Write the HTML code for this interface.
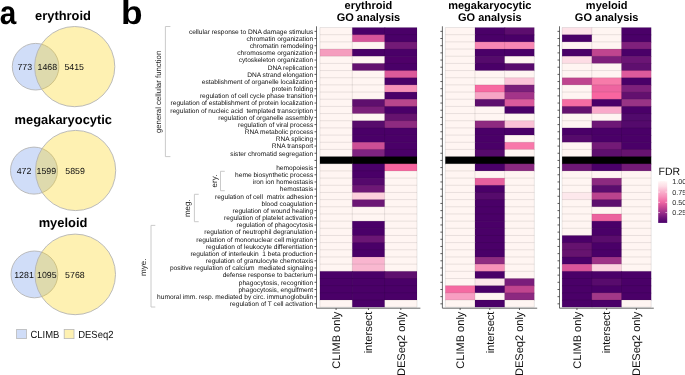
<!DOCTYPE html><html><head><meta charset="utf-8"><style>html,body{margin:0;padding:0;background:#fff;}svg{display:block;will-change:transform;}text{font-family:"Liberation Sans",sans-serif;white-space:pre;text-rendering:geometricPrecision;}</style></head><body>
<svg width="685" height="375" viewBox="0 0 685 375">
<rect width="685" height="375" fill="#fff"/>
<text transform="translate(-0.2,24) scale(0.9,1)" font-size="33" font-weight="bold" fill="#000">a</text>
<text transform="translate(120.9,24) scale(1.07,1)" font-size="33" font-weight="bold" fill="#000">b</text>
<text x="63" y="19.8" font-size="12.9" font-weight="bold" text-anchor="middle" fill="#000">erythroid</text>
<circle cx="35.6" cy="66.7" r="23.3" fill="#D0DDF8" stroke="#B4B4B4" stroke-width="0.9"/>
<circle cx="74.7" cy="66.6" r="40.1" fill="#FCD310" fill-opacity="0.32"/>
<circle cx="74.7" cy="66.6" r="40.1" fill="none" stroke="#B4B4B4" stroke-width="0.9"/>
<text x="24.8" y="70.0" font-size="8.8" text-anchor="middle" fill="#111">773</text>
<text x="47.3" y="70.0" font-size="8.8" text-anchor="middle" fill="#111">1468</text>
<text x="74.2" y="70.0" font-size="8.8" text-anchor="middle" fill="#111">5415</text>
<text x="63.3" y="123.7" font-size="12.9" font-weight="bold" text-anchor="middle" fill="#000">megakaryocytic</text>
<circle cx="34.0" cy="170.6" r="23.5" fill="#D0DDF8" stroke="#B4B4B4" stroke-width="0.9"/>
<circle cx="75.6" cy="170.5" r="40.1" fill="#FCD310" fill-opacity="0.32"/>
<circle cx="75.6" cy="170.5" r="40.1" fill="none" stroke="#B4B4B4" stroke-width="0.9"/>
<text x="24.0" y="173.7" font-size="8.8" text-anchor="middle" fill="#111">472</text>
<text x="46.3" y="173.7" font-size="8.8" text-anchor="middle" fill="#111">1599</text>
<text x="75.1" y="173.7" font-size="8.8" text-anchor="middle" fill="#111">5859</text>
<text x="63" y="227.0" font-size="12.9" font-weight="bold" text-anchor="middle" fill="#000">myeloid</text>
<circle cx="34.4" cy="274.4" r="23.4" fill="#D0DDF8" stroke="#B4B4B4" stroke-width="0.9"/>
<circle cx="75.2" cy="274.4" r="40.3" fill="#FCD310" fill-opacity="0.32"/>
<circle cx="75.2" cy="274.4" r="40.3" fill="none" stroke="#B4B4B4" stroke-width="0.9"/>
<text x="24.0" y="277.9" font-size="8.8" text-anchor="middle" fill="#111">1281</text>
<text x="46.8" y="277.9" font-size="8.8" text-anchor="middle" fill="#111">1095</text>
<text x="74.9" y="277.9" font-size="8.8" text-anchor="middle" fill="#111">5768</text>
<rect x="16.6" y="329.4" width="9.8" height="9.2" fill="#D0DDF8" stroke="#B8B8B8" stroke-width="0.8"/>
<text transform="translate(30.4,337.9) scale(0.92,1)" font-size="10.3" fill="#111">CLIMB</text>
<rect x="64.2" y="329.4" width="9.8" height="9.2" fill="#FEF1B2" stroke="#B8B8B8" stroke-width="0.8"/>
<text transform="translate(78.2,337.9) scale(0.92,1)" font-size="10.3" fill="#111">DESeq2</text>
<path d="M170.4,26.5 H165.4 V156.6 H170.4" fill="none" stroke="#C4C4C4" stroke-width="0.9"/>
<path d="M224.8,171.3 H220.5 V190.7 H224.8" fill="none" stroke="#C4C4C4" stroke-width="0.9"/>
<path d="M198.70000000000002,194.3 H194.4 V221.7 H198.70000000000002" fill="none" stroke="#C4C4C4" stroke-width="0.9"/>
<path d="M155.3,225.4 H151.0 V307.0 H155.3" fill="none" stroke="#C4C4C4" stroke-width="0.9"/>
<text transform="translate(160.9,91.9) rotate(-90)" font-size="7.8" text-anchor="middle" fill="#222">general cellular function</text>
<text transform="translate(216.8,181.0) rotate(-90)" font-size="8" text-anchor="middle" fill="#222">ery.</text>
<text transform="translate(189.8,208.2) rotate(-90)" font-size="8" text-anchor="middle" fill="#222">meg.</text>
<text transform="translate(145.7,267.3) rotate(-90)" font-size="8" text-anchor="middle" fill="#222">mye.</text>
<text x="313.2" y="33.66" font-size="6.6" text-anchor="end" fill="#111">cellular response to DNA damage stimulus</text>
<text x="313.2" y="40.83" font-size="6.6" text-anchor="end" fill="#111">chromatin organization</text>
<text x="313.2" y="48.00" font-size="6.6" text-anchor="end" fill="#111">chromatin remodeling</text>
<text x="313.2" y="55.17" font-size="6.6" text-anchor="end" fill="#111">chromosome organization</text>
<text x="313.2" y="62.34" font-size="6.6" text-anchor="end" fill="#111">cytoskeleton organization</text>
<text x="313.2" y="69.52" font-size="6.6" text-anchor="end" fill="#111">DNA replication</text>
<text x="313.2" y="76.68" font-size="6.6" text-anchor="end" fill="#111">DNA strand elongation</text>
<text x="313.2" y="83.86" font-size="6.6" text-anchor="end" fill="#111">establishment of organelle localization</text>
<text x="313.2" y="91.02" font-size="6.6" text-anchor="end" fill="#111">protein folding</text>
<text x="313.2" y="98.19" font-size="6.6" text-anchor="end" fill="#111">regulation of cell cycle phase transition</text>
<text x="313.2" y="105.36" font-size="6.6" text-anchor="end" fill="#111">regulation of establishment of protein localization</text>
<text x="313.2" y="112.53" font-size="6.6" text-anchor="end" fill="#111">regulation of nucleic acid  templated transcription</text>
<text x="313.2" y="119.70" font-size="6.6" text-anchor="end" fill="#111">regulation of organelle assembly</text>
<text x="313.2" y="126.88" font-size="6.6" text-anchor="end" fill="#111">regulation of viral process</text>
<text x="313.2" y="134.05" font-size="6.6" text-anchor="end" fill="#111">RNA metabolic process</text>
<text x="313.2" y="141.22" font-size="6.6" text-anchor="end" fill="#111">RNA splicing</text>
<text x="313.2" y="148.38" font-size="6.6" text-anchor="end" fill="#111">RNA transport</text>
<text x="313.2" y="155.56" font-size="6.6" text-anchor="end" fill="#111">sister chromatid segregation</text>
<text x="313.2" y="169.90" font-size="6.6" text-anchor="end" fill="#111">hemopoiesis</text>
<text x="313.2" y="177.06" font-size="6.6" text-anchor="end" fill="#111">heme biosynthetic process</text>
<text x="313.2" y="184.24" font-size="6.6" text-anchor="end" fill="#111">iron ion homeostasis</text>
<text x="313.2" y="191.41" font-size="6.6" text-anchor="end" fill="#111">hemostasis</text>
<text x="313.2" y="198.58" font-size="6.6" text-anchor="end" fill="#111">regulation of cell  matrix adhesion</text>
<text x="313.2" y="205.75" font-size="6.6" text-anchor="end" fill="#111">blood coagulation</text>
<text x="313.2" y="212.92" font-size="6.6" text-anchor="end" fill="#111">regulation of wound healing</text>
<text x="313.2" y="220.09" font-size="6.6" text-anchor="end" fill="#111">regulation of platelet activation</text>
<text x="313.2" y="227.26" font-size="6.6" text-anchor="end" fill="#111">regulation of phagocytosis</text>
<text x="313.2" y="234.43" font-size="6.6" text-anchor="end" fill="#111">regulation of neutrophil degranulation</text>
<text x="313.2" y="241.59" font-size="6.6" text-anchor="end" fill="#111">regulation of mononuclear cell migration</text>
<text x="313.2" y="248.77" font-size="6.6" text-anchor="end" fill="#111">regulation of leukocyte differentiation</text>
<text x="313.2" y="255.94" font-size="6.6" text-anchor="end" fill="#111">regulation of interleukin  1 beta production</text>
<text x="313.2" y="263.11" font-size="6.6" text-anchor="end" fill="#111">regulation of granulocyte chemotaxis</text>
<text x="313.2" y="270.28" font-size="6.6" text-anchor="end" fill="#111">positive regulation of calcium  mediated signaling</text>
<text x="313.2" y="277.44" font-size="6.6" text-anchor="end" fill="#111">defense response to bacterium</text>
<text x="313.2" y="284.62" font-size="6.6" text-anchor="end" fill="#111">phagocytosis, recognition</text>
<text x="313.2" y="291.79" font-size="6.6" text-anchor="end" fill="#111">phagocytosis, engulfment</text>
<text x="313.2" y="298.95" font-size="6.6" text-anchor="end" fill="#111">humoral imm. resp. mediated by circ. immunoglobulin</text>
<text x="313.2" y="306.13" font-size="6.6" text-anchor="end" fill="#111">regulation of T cell activation</text>
<text x="368.45" y="9.0" font-size="11" font-weight="bold" text-anchor="middle" fill="#000">erythroid</text>
<text x="368.45" y="20.65" font-size="11" font-weight="bold" text-anchor="middle" fill="#000">GO analysis</text>
<rect x="319.90" y="27.53" width="32.97" height="7.77" fill="#FFF5F2"/>
<rect x="352.27" y="27.53" width="32.97" height="7.77" fill="#4A0068"/>
<rect x="384.63" y="27.53" width="32.37" height="7.77" fill="#4A0068"/>
<rect x="319.90" y="34.70" width="32.97" height="7.77" fill="#FFF5F2"/>
<rect x="352.27" y="34.70" width="32.97" height="7.77" fill="#D6559A"/>
<rect x="384.63" y="34.70" width="32.37" height="7.77" fill="#4A0068"/>
<rect x="319.90" y="41.87" width="32.97" height="7.77" fill="#FFF5F2"/>
<rect x="352.27" y="41.87" width="32.97" height="7.77" fill="#FFF5F2"/>
<rect x="384.63" y="41.87" width="32.37" height="7.77" fill="#731A77"/>
<rect x="319.90" y="49.04" width="32.97" height="7.77" fill="#F59DBE"/>
<rect x="352.27" y="49.04" width="32.97" height="7.77" fill="#4A0068"/>
<rect x="384.63" y="49.04" width="32.37" height="7.77" fill="#4A0068"/>
<rect x="319.90" y="56.21" width="32.97" height="7.77" fill="#FFF5F2"/>
<rect x="352.27" y="56.21" width="32.97" height="7.77" fill="#FFF5F2"/>
<rect x="384.63" y="56.21" width="32.37" height="7.77" fill="#4F0069"/>
<rect x="319.90" y="63.38" width="32.97" height="7.77" fill="#FFF5F2"/>
<rect x="352.27" y="63.38" width="32.97" height="7.77" fill="#63106F"/>
<rect x="384.63" y="63.38" width="32.37" height="7.77" fill="#4A0068"/>
<rect x="319.90" y="70.55" width="32.97" height="7.77" fill="#FFF5F2"/>
<rect x="352.27" y="70.55" width="32.97" height="7.77" fill="#FFF5F2"/>
<rect x="384.63" y="70.55" width="32.37" height="7.77" fill="#DC5A9A"/>
<rect x="319.90" y="77.72" width="32.97" height="7.77" fill="#FFF5F2"/>
<rect x="352.27" y="77.72" width="32.97" height="7.77" fill="#FFF5F2"/>
<rect x="384.63" y="77.72" width="32.37" height="7.77" fill="#4A0068"/>
<rect x="319.90" y="84.89" width="32.97" height="7.77" fill="#FFF5F2"/>
<rect x="352.27" y="84.89" width="32.97" height="7.77" fill="#FFF5F2"/>
<rect x="384.63" y="84.89" width="32.37" height="7.77" fill="#F590B8"/>
<rect x="319.90" y="92.06" width="32.97" height="7.77" fill="#FFF5F2"/>
<rect x="352.27" y="92.06" width="32.97" height="7.77" fill="#FFF5F2"/>
<rect x="384.63" y="92.06" width="32.37" height="7.77" fill="#4A0068"/>
<rect x="319.90" y="99.23" width="32.97" height="7.77" fill="#FFF5F2"/>
<rect x="352.27" y="99.23" width="32.97" height="7.77" fill="#5F0F6E"/>
<rect x="384.63" y="99.23" width="32.37" height="7.77" fill="#B8468C"/>
<rect x="319.90" y="106.40" width="32.97" height="7.77" fill="#FFF5F2"/>
<rect x="352.27" y="106.40" width="32.97" height="7.77" fill="#7B1F7A"/>
<rect x="384.63" y="106.40" width="32.37" height="7.77" fill="#4A0068"/>
<rect x="319.90" y="113.57" width="32.97" height="7.77" fill="#FFF5F2"/>
<rect x="352.27" y="113.57" width="32.97" height="7.77" fill="#FFF5F2"/>
<rect x="384.63" y="113.57" width="32.37" height="7.77" fill="#66136F"/>
<rect x="319.90" y="120.74" width="32.97" height="7.77" fill="#FFF5F2"/>
<rect x="352.27" y="120.74" width="32.97" height="7.77" fill="#570B6C"/>
<rect x="384.63" y="120.74" width="32.37" height="7.77" fill="#8E2B80"/>
<rect x="319.90" y="127.91" width="32.97" height="7.77" fill="#FFF5F2"/>
<rect x="352.27" y="127.91" width="32.97" height="7.77" fill="#4A0068"/>
<rect x="384.63" y="127.91" width="32.37" height="7.77" fill="#4A0068"/>
<rect x="319.90" y="135.08" width="32.97" height="7.77" fill="#FFF5F2"/>
<rect x="352.27" y="135.08" width="32.97" height="7.77" fill="#4A0068"/>
<rect x="384.63" y="135.08" width="32.37" height="7.77" fill="#4A0068"/>
<rect x="319.90" y="142.25" width="32.97" height="7.77" fill="#FFF5F2"/>
<rect x="352.27" y="142.25" width="32.97" height="7.77" fill="#CC4E95"/>
<rect x="384.63" y="142.25" width="32.37" height="7.77" fill="#4A0068"/>
<rect x="319.90" y="149.42" width="32.97" height="7.77" fill="#FFF5F2"/>
<rect x="352.27" y="149.42" width="32.97" height="7.77" fill="#7F2380"/>
<rect x="384.63" y="149.42" width="32.37" height="7.77" fill="#4A0068"/>
<rect x="319.90" y="156.59" width="32.97" height="7.77" fill="#000000"/>
<rect x="352.27" y="156.59" width="32.97" height="7.77" fill="#000000"/>
<rect x="384.63" y="156.59" width="32.37" height="7.77" fill="#000000"/>
<rect x="319.90" y="163.76" width="32.97" height="7.77" fill="#FFF5F2"/>
<rect x="352.27" y="163.76" width="32.97" height="7.77" fill="#4A0068"/>
<rect x="384.63" y="163.76" width="32.37" height="7.77" fill="#F7659F"/>
<rect x="319.90" y="170.93" width="32.97" height="7.77" fill="#FFF5F2"/>
<rect x="352.27" y="170.93" width="32.97" height="7.77" fill="#4A0068"/>
<rect x="384.63" y="170.93" width="32.37" height="7.77" fill="#FFF5F2"/>
<rect x="319.90" y="178.10" width="32.97" height="7.77" fill="#FFF5F2"/>
<rect x="352.27" y="178.10" width="32.97" height="7.77" fill="#55096C"/>
<rect x="384.63" y="178.10" width="32.37" height="7.77" fill="#FFF5F2"/>
<rect x="319.90" y="185.27" width="32.97" height="7.77" fill="#FFF5F2"/>
<rect x="352.27" y="185.27" width="32.97" height="7.77" fill="#6E1876"/>
<rect x="384.63" y="185.27" width="32.37" height="7.77" fill="#FFF5F2"/>
<rect x="319.90" y="192.44" width="32.97" height="7.77" fill="#FFF5F2"/>
<rect x="352.27" y="192.44" width="32.97" height="7.77" fill="#FCD0DC"/>
<rect x="384.63" y="192.44" width="32.37" height="7.77" fill="#FFF5F2"/>
<rect x="319.90" y="199.61" width="32.97" height="7.77" fill="#FFF5F2"/>
<rect x="352.27" y="199.61" width="32.97" height="7.77" fill="#6C1775"/>
<rect x="384.63" y="199.61" width="32.37" height="7.77" fill="#FFF5F2"/>
<rect x="319.90" y="206.78" width="32.97" height="7.77" fill="#FFF5F2"/>
<rect x="352.27" y="206.78" width="32.97" height="7.77" fill="#FFF5F2"/>
<rect x="384.63" y="206.78" width="32.37" height="7.77" fill="#FFF5F2"/>
<rect x="319.90" y="213.95" width="32.97" height="7.77" fill="#FFF5F2"/>
<rect x="352.27" y="213.95" width="32.97" height="7.77" fill="#FFF5F2"/>
<rect x="384.63" y="213.95" width="32.37" height="7.77" fill="#FFF5F2"/>
<rect x="319.90" y="221.12" width="32.97" height="7.77" fill="#FFF5F2"/>
<rect x="352.27" y="221.12" width="32.97" height="7.77" fill="#4A0068"/>
<rect x="384.63" y="221.12" width="32.37" height="7.77" fill="#FFF5F2"/>
<rect x="319.90" y="228.29" width="32.97" height="7.77" fill="#FFF5F2"/>
<rect x="352.27" y="228.29" width="32.97" height="7.77" fill="#4A0068"/>
<rect x="384.63" y="228.29" width="32.37" height="7.77" fill="#FFF5F2"/>
<rect x="319.90" y="235.46" width="32.97" height="7.77" fill="#FFF5F2"/>
<rect x="352.27" y="235.46" width="32.97" height="7.77" fill="#6B1675"/>
<rect x="384.63" y="235.46" width="32.37" height="7.77" fill="#FFF5F2"/>
<rect x="319.90" y="242.63" width="32.97" height="7.77" fill="#FFF5F2"/>
<rect x="352.27" y="242.63" width="32.97" height="7.77" fill="#4A0068"/>
<rect x="384.63" y="242.63" width="32.37" height="7.77" fill="#FFF5F2"/>
<rect x="319.90" y="249.80" width="32.97" height="7.77" fill="#FFF5F2"/>
<rect x="352.27" y="249.80" width="32.97" height="7.77" fill="#4A0068"/>
<rect x="384.63" y="249.80" width="32.37" height="7.77" fill="#FFF5F2"/>
<rect x="319.90" y="256.97" width="32.97" height="7.77" fill="#FFF5F2"/>
<rect x="352.27" y="256.97" width="32.97" height="7.77" fill="#F9B5CF"/>
<rect x="384.63" y="256.97" width="32.37" height="7.77" fill="#FFF5F2"/>
<rect x="319.90" y="264.14" width="32.97" height="7.77" fill="#FFF5F2"/>
<rect x="352.27" y="264.14" width="32.97" height="7.77" fill="#F9B8D0"/>
<rect x="384.63" y="264.14" width="32.37" height="7.77" fill="#FFF5F2"/>
<rect x="319.90" y="271.31" width="32.97" height="7.77" fill="#4A0068"/>
<rect x="352.27" y="271.31" width="32.97" height="7.77" fill="#4A0068"/>
<rect x="384.63" y="271.31" width="32.37" height="7.77" fill="#5E0F6E"/>
<rect x="319.90" y="278.48" width="32.97" height="7.77" fill="#4A0068"/>
<rect x="352.27" y="278.48" width="32.97" height="7.77" fill="#4A0068"/>
<rect x="384.63" y="278.48" width="32.37" height="7.77" fill="#4A0068"/>
<rect x="319.90" y="285.65" width="32.97" height="7.77" fill="#4A0068"/>
<rect x="352.27" y="285.65" width="32.97" height="7.77" fill="#4A0068"/>
<rect x="384.63" y="285.65" width="32.37" height="7.77" fill="#4A0068"/>
<rect x="319.90" y="292.82" width="32.97" height="7.77" fill="#4A0068"/>
<rect x="352.27" y="292.82" width="32.97" height="7.77" fill="#4A0068"/>
<rect x="384.63" y="292.82" width="32.37" height="7.77" fill="#4A0068"/>
<rect x="319.90" y="299.99" width="32.97" height="7.17" fill="#FFF5F2"/>
<rect x="352.27" y="299.99" width="32.97" height="7.17" fill="#4A0068"/>
<rect x="384.63" y="299.99" width="32.37" height="7.17" fill="#FFF5F2"/>
<path d="M319.90,27.53H417.00M319.90,34.70H417.00M319.90,41.87H417.00M319.90,49.04H417.00M319.90,56.21H417.00M319.90,63.38H417.00M319.90,70.55H417.00M319.90,77.72H417.00M319.90,84.89H417.00M319.90,92.06H417.00M319.90,99.23H417.00M319.90,106.40H417.00M319.90,113.57H417.00M319.90,120.74H417.00M319.90,127.91H417.00M319.90,135.08H417.00M319.90,142.25H417.00M319.90,149.42H417.00M319.90,156.59H417.00M319.90,163.76H417.00M319.90,170.93H417.00M319.90,178.10H417.00M319.90,185.27H417.00M319.90,192.44H417.00M319.90,199.61H417.00M319.90,206.78H417.00M319.90,213.95H417.00M319.90,221.12H417.00M319.90,228.29H417.00M319.90,235.46H417.00M319.90,242.63H417.00M319.90,249.80H417.00M319.90,256.97H417.00M319.90,264.14H417.00M319.90,271.31H417.00M319.90,278.48H417.00M319.90,285.65H417.00M319.90,292.82H417.00M319.90,299.99H417.00M319.90,307.16H417.00M319.90,27.53V307.16M352.27,27.53V307.16M384.63,27.53V307.16M417.00,27.53V307.16" stroke="#000" stroke-opacity="0.12" stroke-width="0.75" fill="none"/>
<path d="M316.5,26.3 V308.2 H420.4" fill="none" stroke="#444" stroke-width="0.8"/>
<path d="M314.50,31.37H316.5M314.50,38.53H316.5M314.50,45.70H316.5M314.50,52.88H316.5M314.50,60.05H316.5M314.50,67.22H316.5M314.50,74.38H316.5M314.50,81.56H316.5M314.50,88.72H316.5M314.50,95.89H316.5M314.50,103.06H316.5M314.50,110.23H316.5M314.50,117.41H316.5M314.50,124.58H316.5M314.50,131.75H316.5M314.50,138.92H316.5M314.50,146.08H316.5M314.50,153.25H316.5M314.50,160.43H316.5M314.50,167.59H316.5M314.50,174.76H316.5M314.50,181.94H316.5M314.50,189.10H316.5M314.50,196.28H316.5M314.50,203.44H316.5M314.50,210.62H316.5M314.50,217.78H316.5M314.50,224.96H316.5M314.50,232.12H316.5M314.50,239.29H316.5M314.50,246.47H316.5M314.50,253.63H316.5M314.50,260.81H316.5M314.50,267.98H316.5M314.50,275.14H316.5M314.50,282.31H316.5M314.50,289.49H316.5M314.50,296.65H316.5M314.50,303.83H316.5M336.08,308.2V310.0M368.45,308.2V310.0M400.82,308.2V310.0" stroke="#333" stroke-width="0.8" fill="none"/>
<text transform="translate(339.83,311.6) rotate(-90)" font-size="11.05" text-anchor="end" fill="#111">CLIMB only</text>
<text transform="translate(372.20,311.6) rotate(-90)" font-size="11.05" text-anchor="end" fill="#111">intersect</text>
<text transform="translate(404.57,311.6) rotate(-90)" font-size="11.05" text-anchor="end" fill="#111">DESeq2 only</text>
<text x="489.80" y="9.0" font-size="11" font-weight="bold" text-anchor="middle" fill="#000">megakaryocytic</text>
<text x="489.80" y="20.65" font-size="11" font-weight="bold" text-anchor="middle" fill="#000">GO analysis</text>
<rect x="445.30" y="27.53" width="30.27" height="7.77" fill="#FFF5F2"/>
<rect x="474.97" y="27.53" width="30.27" height="7.77" fill="#4A0068"/>
<rect x="504.63" y="27.53" width="29.67" height="7.77" fill="#5C0D6E"/>
<rect x="445.30" y="34.70" width="30.27" height="7.77" fill="#FFF5F2"/>
<rect x="474.97" y="34.70" width="30.27" height="7.77" fill="#4A0068"/>
<rect x="504.63" y="34.70" width="29.67" height="7.77" fill="#4A0068"/>
<rect x="445.30" y="41.87" width="30.27" height="7.77" fill="#FFF5F2"/>
<rect x="474.97" y="41.87" width="30.27" height="7.77" fill="#F888B4"/>
<rect x="504.63" y="41.87" width="29.67" height="7.77" fill="#F888B4"/>
<rect x="445.30" y="49.04" width="30.27" height="7.77" fill="#FFF5F2"/>
<rect x="474.97" y="49.04" width="30.27" height="7.77" fill="#4A0068"/>
<rect x="504.63" y="49.04" width="29.67" height="7.77" fill="#4A0068"/>
<rect x="445.30" y="56.21" width="30.27" height="7.77" fill="#FFF5F2"/>
<rect x="474.97" y="56.21" width="30.27" height="7.77" fill="#550A6C"/>
<rect x="504.63" y="56.21" width="29.67" height="7.77" fill="#FFF5F2"/>
<rect x="445.30" y="63.38" width="30.27" height="7.77" fill="#FFF5F2"/>
<rect x="474.97" y="63.38" width="30.27" height="7.77" fill="#4A0068"/>
<rect x="504.63" y="63.38" width="29.67" height="7.77" fill="#580B6D"/>
<rect x="445.30" y="70.55" width="30.27" height="7.77" fill="#FFF5F2"/>
<rect x="474.97" y="70.55" width="30.27" height="7.77" fill="#FFF5F2"/>
<rect x="504.63" y="70.55" width="29.67" height="7.77" fill="#FFF5F2"/>
<rect x="445.30" y="77.72" width="30.27" height="7.77" fill="#FFF5F2"/>
<rect x="474.97" y="77.72" width="30.27" height="7.77" fill="#FFF5F2"/>
<rect x="504.63" y="77.72" width="29.67" height="7.77" fill="#FBC4D8"/>
<rect x="445.30" y="84.89" width="30.27" height="7.77" fill="#FFF5F2"/>
<rect x="474.97" y="84.89" width="30.27" height="7.77" fill="#F76AA2"/>
<rect x="504.63" y="84.89" width="29.67" height="7.77" fill="#7A1F7B"/>
<rect x="445.30" y="92.06" width="30.27" height="7.77" fill="#FFF5F2"/>
<rect x="474.97" y="92.06" width="30.27" height="7.77" fill="#F7A5C6"/>
<rect x="504.63" y="92.06" width="29.67" height="7.77" fill="#A33489"/>
<rect x="445.30" y="99.23" width="30.27" height="7.77" fill="#FFF5F2"/>
<rect x="474.97" y="99.23" width="30.27" height="7.77" fill="#5E0F6E"/>
<rect x="504.63" y="99.23" width="29.67" height="7.77" fill="#DA5A9C"/>
<rect x="445.30" y="106.40" width="30.27" height="7.77" fill="#FFF5F2"/>
<rect x="474.97" y="106.40" width="30.27" height="7.77" fill="#FFF5F2"/>
<rect x="504.63" y="106.40" width="29.67" height="7.77" fill="#4A0068"/>
<rect x="445.30" y="113.57" width="30.27" height="7.77" fill="#FFF5F2"/>
<rect x="474.97" y="113.57" width="30.27" height="7.77" fill="#FFF5F2"/>
<rect x="504.63" y="113.57" width="29.67" height="7.77" fill="#FFF5F2"/>
<rect x="445.30" y="120.74" width="30.27" height="7.77" fill="#FFF5F2"/>
<rect x="474.97" y="120.74" width="30.27" height="7.77" fill="#8E2A80"/>
<rect x="504.63" y="120.74" width="29.67" height="7.77" fill="#FAC2D6"/>
<rect x="445.30" y="127.91" width="30.27" height="7.77" fill="#FFF5F2"/>
<rect x="474.97" y="127.91" width="30.27" height="7.77" fill="#4A0068"/>
<rect x="504.63" y="127.91" width="29.67" height="7.77" fill="#4A0068"/>
<rect x="445.30" y="135.08" width="30.27" height="7.77" fill="#FFF5F2"/>
<rect x="474.97" y="135.08" width="30.27" height="7.77" fill="#4A0068"/>
<rect x="504.63" y="135.08" width="29.67" height="7.77" fill="#FFF5F2"/>
<rect x="445.30" y="142.25" width="30.27" height="7.77" fill="#FFF5F2"/>
<rect x="474.97" y="142.25" width="30.27" height="7.77" fill="#4A0068"/>
<rect x="504.63" y="142.25" width="29.67" height="7.77" fill="#F878AA"/>
<rect x="445.30" y="149.42" width="30.27" height="7.77" fill="#FFF5F2"/>
<rect x="474.97" y="149.42" width="30.27" height="7.77" fill="#560A6C"/>
<rect x="504.63" y="149.42" width="29.67" height="7.77" fill="#FFF5F2"/>
<rect x="445.30" y="156.59" width="30.27" height="7.77" fill="#000000"/>
<rect x="474.97" y="156.59" width="30.27" height="7.77" fill="#000000"/>
<rect x="504.63" y="156.59" width="29.67" height="7.77" fill="#000000"/>
<rect x="445.30" y="163.76" width="30.27" height="7.77" fill="#FFF5F2"/>
<rect x="474.97" y="163.76" width="30.27" height="7.77" fill="#4A0068"/>
<rect x="504.63" y="163.76" width="29.67" height="7.77" fill="#8A2980"/>
<rect x="445.30" y="170.93" width="30.27" height="7.77" fill="#FFF5F2"/>
<rect x="474.97" y="170.93" width="30.27" height="7.77" fill="#FFF5F2"/>
<rect x="504.63" y="170.93" width="29.67" height="7.77" fill="#FFF5F2"/>
<rect x="445.30" y="178.10" width="30.27" height="7.77" fill="#FFF5F2"/>
<rect x="474.97" y="178.10" width="30.27" height="7.77" fill="#E6609E"/>
<rect x="504.63" y="178.10" width="29.67" height="7.77" fill="#FFF5F2"/>
<rect x="445.30" y="185.27" width="30.27" height="7.77" fill="#FFF5F2"/>
<rect x="474.97" y="185.27" width="30.27" height="7.77" fill="#4A0068"/>
<rect x="504.63" y="185.27" width="29.67" height="7.77" fill="#FFF5F2"/>
<rect x="445.30" y="192.44" width="30.27" height="7.77" fill="#FFF5F2"/>
<rect x="474.97" y="192.44" width="30.27" height="7.77" fill="#560B6C"/>
<rect x="504.63" y="192.44" width="29.67" height="7.77" fill="#FFF5F2"/>
<rect x="445.30" y="199.61" width="30.27" height="7.77" fill="#FFF5F2"/>
<rect x="474.97" y="199.61" width="30.27" height="7.77" fill="#4A0068"/>
<rect x="504.63" y="199.61" width="29.67" height="7.77" fill="#FFF5F2"/>
<rect x="445.30" y="206.78" width="30.27" height="7.77" fill="#FFF5F2"/>
<rect x="474.97" y="206.78" width="30.27" height="7.77" fill="#4A0068"/>
<rect x="504.63" y="206.78" width="29.67" height="7.77" fill="#FFF5F2"/>
<rect x="445.30" y="213.95" width="30.27" height="7.77" fill="#FFF5F2"/>
<rect x="474.97" y="213.95" width="30.27" height="7.77" fill="#4A0068"/>
<rect x="504.63" y="213.95" width="29.67" height="7.77" fill="#FFF5F2"/>
<rect x="445.30" y="221.12" width="30.27" height="7.77" fill="#FFF5F2"/>
<rect x="474.97" y="221.12" width="30.27" height="7.77" fill="#4A0068"/>
<rect x="504.63" y="221.12" width="29.67" height="7.77" fill="#FFF5F2"/>
<rect x="445.30" y="228.29" width="30.27" height="7.77" fill="#FFF5F2"/>
<rect x="474.97" y="228.29" width="30.27" height="7.77" fill="#4A0068"/>
<rect x="504.63" y="228.29" width="29.67" height="7.77" fill="#FFF5F2"/>
<rect x="445.30" y="235.46" width="30.27" height="7.77" fill="#FFF5F2"/>
<rect x="474.97" y="235.46" width="30.27" height="7.77" fill="#4A0068"/>
<rect x="504.63" y="235.46" width="29.67" height="7.77" fill="#FFF5F2"/>
<rect x="445.30" y="242.63" width="30.27" height="7.77" fill="#FFF5F2"/>
<rect x="474.97" y="242.63" width="30.27" height="7.77" fill="#4A0068"/>
<rect x="504.63" y="242.63" width="29.67" height="7.77" fill="#FFF5F2"/>
<rect x="445.30" y="249.80" width="30.27" height="7.77" fill="#FFF5F2"/>
<rect x="474.97" y="249.80" width="30.27" height="7.77" fill="#4A0068"/>
<rect x="504.63" y="249.80" width="29.67" height="7.77" fill="#FFF5F2"/>
<rect x="445.30" y="256.97" width="30.27" height="7.77" fill="#FFF5F2"/>
<rect x="474.97" y="256.97" width="30.27" height="7.77" fill="#8F2C81"/>
<rect x="504.63" y="256.97" width="29.67" height="7.77" fill="#FFF5F2"/>
<rect x="445.30" y="264.14" width="30.27" height="7.77" fill="#FFF5F2"/>
<rect x="474.97" y="264.14" width="30.27" height="7.77" fill="#F792B8"/>
<rect x="504.63" y="264.14" width="29.67" height="7.77" fill="#FFF5F2"/>
<rect x="445.30" y="271.31" width="30.27" height="7.77" fill="#FFF5F2"/>
<rect x="474.97" y="271.31" width="30.27" height="7.77" fill="#4A0068"/>
<rect x="504.63" y="271.31" width="29.67" height="7.77" fill="#FFF5F2"/>
<rect x="445.30" y="278.48" width="30.27" height="7.77" fill="#FFF5F2"/>
<rect x="474.97" y="278.48" width="30.27" height="7.77" fill="#FDE6EA"/>
<rect x="504.63" y="278.48" width="29.67" height="7.77" fill="#7A1D7B"/>
<rect x="445.30" y="285.65" width="30.27" height="7.77" fill="#F56AA2"/>
<rect x="474.97" y="285.65" width="30.27" height="7.77" fill="#4A0068"/>
<rect x="504.63" y="285.65" width="29.67" height="7.77" fill="#C0458F"/>
<rect x="445.30" y="292.82" width="30.27" height="7.77" fill="#F89EC2"/>
<rect x="474.97" y="292.82" width="30.27" height="7.77" fill="#FFF5F2"/>
<rect x="504.63" y="292.82" width="29.67" height="7.77" fill="#8C2980"/>
<rect x="445.30" y="299.99" width="30.27" height="7.17" fill="#FFF5F2"/>
<rect x="474.97" y="299.99" width="30.27" height="7.17" fill="#4A0068"/>
<rect x="504.63" y="299.99" width="29.67" height="7.17" fill="#FFF5F2"/>
<path d="M445.30,27.53H534.30M445.30,34.70H534.30M445.30,41.87H534.30M445.30,49.04H534.30M445.30,56.21H534.30M445.30,63.38H534.30M445.30,70.55H534.30M445.30,77.72H534.30M445.30,84.89H534.30M445.30,92.06H534.30M445.30,99.23H534.30M445.30,106.40H534.30M445.30,113.57H534.30M445.30,120.74H534.30M445.30,127.91H534.30M445.30,135.08H534.30M445.30,142.25H534.30M445.30,149.42H534.30M445.30,156.59H534.30M445.30,163.76H534.30M445.30,170.93H534.30M445.30,178.10H534.30M445.30,185.27H534.30M445.30,192.44H534.30M445.30,199.61H534.30M445.30,206.78H534.30M445.30,213.95H534.30M445.30,221.12H534.30M445.30,228.29H534.30M445.30,235.46H534.30M445.30,242.63H534.30M445.30,249.80H534.30M445.30,256.97H534.30M445.30,264.14H534.30M445.30,271.31H534.30M445.30,278.48H534.30M445.30,285.65H534.30M445.30,292.82H534.30M445.30,299.99H534.30M445.30,307.16H534.30M445.30,27.53V307.16M474.97,27.53V307.16M504.63,27.53V307.16M534.30,27.53V307.16" stroke="#000" stroke-opacity="0.12" stroke-width="0.75" fill="none"/>
<path d="M442.4,26.3 V308.2 H537.2" fill="none" stroke="#444" stroke-width="0.8"/>
<path d="M440.40,31.37H442.4M440.40,38.53H442.4M440.40,45.70H442.4M440.40,52.88H442.4M440.40,60.05H442.4M440.40,67.22H442.4M440.40,74.38H442.4M440.40,81.56H442.4M440.40,88.72H442.4M440.40,95.89H442.4M440.40,103.06H442.4M440.40,110.23H442.4M440.40,117.41H442.4M440.40,124.58H442.4M440.40,131.75H442.4M440.40,138.92H442.4M440.40,146.08H442.4M440.40,153.25H442.4M440.40,160.43H442.4M440.40,167.59H442.4M440.40,174.76H442.4M440.40,181.94H442.4M440.40,189.10H442.4M440.40,196.28H442.4M440.40,203.44H442.4M440.40,210.62H442.4M440.40,217.78H442.4M440.40,224.96H442.4M440.40,232.12H442.4M440.40,239.29H442.4M440.40,246.47H442.4M440.40,253.63H442.4M440.40,260.81H442.4M440.40,267.98H442.4M440.40,275.14H442.4M440.40,282.31H442.4M440.40,289.49H442.4M440.40,296.65H442.4M440.40,303.83H442.4M460.13,308.2V310.0M489.80,308.2V310.0M519.47,308.2V310.0" stroke="#333" stroke-width="0.8" fill="none"/>
<text transform="translate(463.88,311.6) rotate(-90)" font-size="11.05" text-anchor="end" fill="#111">CLIMB only</text>
<text transform="translate(493.55,311.6) rotate(-90)" font-size="11.05" text-anchor="end" fill="#111">intersect</text>
<text transform="translate(523.22,311.6) rotate(-90)" font-size="11.05" text-anchor="end" fill="#111">DESeq2 only</text>
<text x="606.65" y="9.0" font-size="11" font-weight="bold" text-anchor="middle" fill="#000">myeloid</text>
<text x="606.65" y="20.65" font-size="11" font-weight="bold" text-anchor="middle" fill="#000">GO analysis</text>
<rect x="562.10" y="27.53" width="30.30" height="7.77" fill="#FDE2E8"/>
<rect x="591.80" y="27.53" width="30.30" height="7.77" fill="#FFF5F2"/>
<rect x="621.50" y="27.53" width="29.70" height="7.77" fill="#4A0068"/>
<rect x="562.10" y="34.70" width="30.30" height="7.77" fill="#4A0068"/>
<rect x="591.80" y="34.70" width="30.30" height="7.77" fill="#FFF5F2"/>
<rect x="621.50" y="34.70" width="29.70" height="7.77" fill="#4A0068"/>
<rect x="562.10" y="41.87" width="30.30" height="7.77" fill="#FFF5F2"/>
<rect x="591.80" y="41.87" width="30.30" height="7.77" fill="#FFF5F2"/>
<rect x="621.50" y="41.87" width="29.70" height="7.77" fill="#7F207C"/>
<rect x="562.10" y="49.04" width="30.30" height="7.77" fill="#4A0068"/>
<rect x="591.80" y="49.04" width="30.30" height="7.77" fill="#C0458F"/>
<rect x="621.50" y="49.04" width="29.70" height="7.77" fill="#4A0068"/>
<rect x="562.10" y="56.21" width="30.30" height="7.77" fill="#FDDDE5"/>
<rect x="591.80" y="56.21" width="30.30" height="7.77" fill="#7E1F7B"/>
<rect x="621.50" y="56.21" width="29.70" height="7.77" fill="#6B1575"/>
<rect x="562.10" y="63.38" width="30.30" height="7.77" fill="#FFF5F2"/>
<rect x="591.80" y="63.38" width="30.30" height="7.77" fill="#FFF5F2"/>
<rect x="621.50" y="63.38" width="29.70" height="7.77" fill="#5F0F6F"/>
<rect x="562.10" y="70.55" width="30.30" height="7.77" fill="#FFF5F2"/>
<rect x="591.80" y="70.55" width="30.30" height="7.77" fill="#FFF5F2"/>
<rect x="621.50" y="70.55" width="29.70" height="7.77" fill="#DD5A9C"/>
<rect x="562.10" y="77.72" width="30.30" height="7.77" fill="#BF458F"/>
<rect x="591.80" y="77.72" width="30.30" height="7.77" fill="#F77BAA"/>
<rect x="621.50" y="77.72" width="29.70" height="7.77" fill="#4A0068"/>
<rect x="562.10" y="84.89" width="30.30" height="7.77" fill="#FFF5F2"/>
<rect x="591.80" y="84.89" width="30.30" height="7.77" fill="#EE64A0"/>
<rect x="621.50" y="84.89" width="29.70" height="7.77" fill="#7E207C"/>
<rect x="562.10" y="92.06" width="30.30" height="7.77" fill="#FFF5F2"/>
<rect x="591.80" y="92.06" width="30.30" height="7.77" fill="#F865A0"/>
<rect x="621.50" y="92.06" width="29.70" height="7.77" fill="#63106F"/>
<rect x="562.10" y="99.23" width="30.30" height="7.77" fill="#F56DA3"/>
<rect x="591.80" y="99.23" width="30.30" height="7.77" fill="#4A0068"/>
<rect x="621.50" y="99.23" width="29.70" height="7.77" fill="#983385"/>
<rect x="562.10" y="106.40" width="30.30" height="7.77" fill="#65126F"/>
<rect x="591.80" y="106.40" width="30.30" height="7.77" fill="#F9AACA"/>
<rect x="621.50" y="106.40" width="29.70" height="7.77" fill="#4A0068"/>
<rect x="562.10" y="113.57" width="30.30" height="7.77" fill="#FFF5F2"/>
<rect x="591.80" y="113.57" width="30.30" height="7.77" fill="#FFF5F2"/>
<rect x="621.50" y="113.57" width="29.70" height="7.77" fill="#510A6C"/>
<rect x="562.10" y="120.74" width="30.30" height="7.77" fill="#FFF5F2"/>
<rect x="591.80" y="120.74" width="30.30" height="7.77" fill="#6D1776"/>
<rect x="621.50" y="120.74" width="29.70" height="7.77" fill="#540A6C"/>
<rect x="562.10" y="127.91" width="30.30" height="7.77" fill="#4A0068"/>
<rect x="591.80" y="127.91" width="30.30" height="7.77" fill="#4A0068"/>
<rect x="621.50" y="127.91" width="29.70" height="7.77" fill="#4A0068"/>
<rect x="562.10" y="135.08" width="30.30" height="7.77" fill="#560A6C"/>
<rect x="591.80" y="135.08" width="30.30" height="7.77" fill="#4A0068"/>
<rect x="621.50" y="135.08" width="29.70" height="7.77" fill="#4A0068"/>
<rect x="562.10" y="142.25" width="30.30" height="7.77" fill="#FFF5F2"/>
<rect x="591.80" y="142.25" width="30.30" height="7.77" fill="#731A77"/>
<rect x="621.50" y="142.25" width="29.70" height="7.77" fill="#4A0068"/>
<rect x="562.10" y="149.42" width="30.30" height="7.77" fill="#FFF5F2"/>
<rect x="591.80" y="149.42" width="30.30" height="7.77" fill="#5E0F6E"/>
<rect x="621.50" y="149.42" width="29.70" height="7.77" fill="#66136F"/>
<rect x="562.10" y="156.59" width="30.30" height="7.77" fill="#000000"/>
<rect x="591.80" y="156.59" width="30.30" height="7.77" fill="#000000"/>
<rect x="621.50" y="156.59" width="29.70" height="7.77" fill="#000000"/>
<rect x="562.10" y="163.76" width="30.30" height="7.77" fill="#6E1876"/>
<rect x="591.80" y="163.76" width="30.30" height="7.77" fill="#4A0068"/>
<rect x="621.50" y="163.76" width="29.70" height="7.77" fill="#731A77"/>
<rect x="562.10" y="170.93" width="30.30" height="7.77" fill="#FFF5F2"/>
<rect x="591.80" y="170.93" width="30.30" height="7.77" fill="#FFF5F2"/>
<rect x="621.50" y="170.93" width="29.70" height="7.77" fill="#FFF5F2"/>
<rect x="562.10" y="178.10" width="30.30" height="7.77" fill="#FFF5F2"/>
<rect x="591.80" y="178.10" width="30.30" height="7.77" fill="#8C2A80"/>
<rect x="621.50" y="178.10" width="29.70" height="7.77" fill="#FFF5F2"/>
<rect x="562.10" y="185.27" width="30.30" height="7.77" fill="#FFF5F2"/>
<rect x="591.80" y="185.27" width="30.30" height="7.77" fill="#5B0D6E"/>
<rect x="621.50" y="185.27" width="29.70" height="7.77" fill="#FFF5F2"/>
<rect x="562.10" y="192.44" width="30.30" height="7.77" fill="#FDE8EC"/>
<rect x="591.80" y="192.44" width="30.30" height="7.77" fill="#BA438D"/>
<rect x="621.50" y="192.44" width="29.70" height="7.77" fill="#FFF5F2"/>
<rect x="562.10" y="199.61" width="30.30" height="7.77" fill="#FFF5F2"/>
<rect x="591.80" y="199.61" width="30.30" height="7.77" fill="#5E0F6E"/>
<rect x="621.50" y="199.61" width="29.70" height="7.77" fill="#FFF5F2"/>
<rect x="562.10" y="206.78" width="30.30" height="7.77" fill="#FFF5F2"/>
<rect x="591.80" y="206.78" width="30.30" height="7.77" fill="#FFF5F2"/>
<rect x="621.50" y="206.78" width="29.70" height="7.77" fill="#FFF5F2"/>
<rect x="562.10" y="213.95" width="30.30" height="7.77" fill="#FFF5F2"/>
<rect x="591.80" y="213.95" width="30.30" height="7.77" fill="#EC629F"/>
<rect x="621.50" y="213.95" width="29.70" height="7.77" fill="#FFF5F2"/>
<rect x="562.10" y="221.12" width="30.30" height="7.77" fill="#FFF5F2"/>
<rect x="591.80" y="221.12" width="30.30" height="7.77" fill="#4A0068"/>
<rect x="621.50" y="221.12" width="29.70" height="7.77" fill="#FFF5F2"/>
<rect x="562.10" y="228.29" width="30.30" height="7.77" fill="#FFF5F2"/>
<rect x="591.80" y="228.29" width="30.30" height="7.77" fill="#4A0068"/>
<rect x="621.50" y="228.29" width="29.70" height="7.77" fill="#FFF5F2"/>
<rect x="562.10" y="235.46" width="30.30" height="7.77" fill="#4A0068"/>
<rect x="591.80" y="235.46" width="30.30" height="7.77" fill="#5A0C6D"/>
<rect x="621.50" y="235.46" width="29.70" height="7.77" fill="#FFF5F2"/>
<rect x="562.10" y="242.63" width="30.30" height="7.77" fill="#65126F"/>
<rect x="591.80" y="242.63" width="30.30" height="7.77" fill="#4A0068"/>
<rect x="621.50" y="242.63" width="29.70" height="7.77" fill="#FFF5F2"/>
<rect x="562.10" y="249.80" width="30.30" height="7.77" fill="#66136F"/>
<rect x="591.80" y="249.80" width="30.30" height="7.77" fill="#4A0068"/>
<rect x="621.50" y="249.80" width="29.70" height="7.77" fill="#FFF5F2"/>
<rect x="562.10" y="256.97" width="30.30" height="7.77" fill="#4A0068"/>
<rect x="591.80" y="256.97" width="30.30" height="7.77" fill="#9E3387"/>
<rect x="621.50" y="256.97" width="29.70" height="7.77" fill="#FFF5F2"/>
<rect x="562.10" y="264.14" width="30.30" height="7.77" fill="#D9559A"/>
<rect x="591.80" y="264.14" width="30.30" height="7.77" fill="#FCD2DF"/>
<rect x="621.50" y="264.14" width="29.70" height="7.77" fill="#FFF5F2"/>
<rect x="562.10" y="271.31" width="30.30" height="7.77" fill="#4A0068"/>
<rect x="591.80" y="271.31" width="30.30" height="7.77" fill="#4A0068"/>
<rect x="621.50" y="271.31" width="29.70" height="7.77" fill="#4A0068"/>
<rect x="562.10" y="278.48" width="30.30" height="7.77" fill="#4A0068"/>
<rect x="591.80" y="278.48" width="30.30" height="7.77" fill="#580B6D"/>
<rect x="621.50" y="278.48" width="29.70" height="7.77" fill="#4A0068"/>
<rect x="562.10" y="285.65" width="30.30" height="7.77" fill="#4A0068"/>
<rect x="591.80" y="285.65" width="30.30" height="7.77" fill="#4A0068"/>
<rect x="621.50" y="285.65" width="29.70" height="7.77" fill="#4A0068"/>
<rect x="562.10" y="292.82" width="30.30" height="7.77" fill="#4A0068"/>
<rect x="591.80" y="292.82" width="30.30" height="7.77" fill="#A23888"/>
<rect x="621.50" y="292.82" width="29.70" height="7.77" fill="#4A0068"/>
<rect x="562.10" y="299.99" width="30.30" height="7.17" fill="#4A0068"/>
<rect x="591.80" y="299.99" width="30.30" height="7.17" fill="#4A0068"/>
<rect x="621.50" y="299.99" width="29.70" height="7.17" fill="#FFF5F2"/>
<path d="M562.10,27.53H651.20M562.10,34.70H651.20M562.10,41.87H651.20M562.10,49.04H651.20M562.10,56.21H651.20M562.10,63.38H651.20M562.10,70.55H651.20M562.10,77.72H651.20M562.10,84.89H651.20M562.10,92.06H651.20M562.10,99.23H651.20M562.10,106.40H651.20M562.10,113.57H651.20M562.10,120.74H651.20M562.10,127.91H651.20M562.10,135.08H651.20M562.10,142.25H651.20M562.10,149.42H651.20M562.10,156.59H651.20M562.10,163.76H651.20M562.10,170.93H651.20M562.10,178.10H651.20M562.10,185.27H651.20M562.10,192.44H651.20M562.10,199.61H651.20M562.10,206.78H651.20M562.10,213.95H651.20M562.10,221.12H651.20M562.10,228.29H651.20M562.10,235.46H651.20M562.10,242.63H651.20M562.10,249.80H651.20M562.10,256.97H651.20M562.10,264.14H651.20M562.10,271.31H651.20M562.10,278.48H651.20M562.10,285.65H651.20M562.10,292.82H651.20M562.10,299.99H651.20M562.10,307.16H651.20M562.10,27.53V307.16M591.80,27.53V307.16M621.50,27.53V307.16M651.20,27.53V307.16" stroke="#000" stroke-opacity="0.12" stroke-width="0.75" fill="none"/>
<path d="M559.5,26.3 V308.2 H653.8000000000001" fill="none" stroke="#444" stroke-width="0.8"/>
<path d="M557.50,31.37H559.5M557.50,38.53H559.5M557.50,45.70H559.5M557.50,52.88H559.5M557.50,60.05H559.5M557.50,67.22H559.5M557.50,74.38H559.5M557.50,81.56H559.5M557.50,88.72H559.5M557.50,95.89H559.5M557.50,103.06H559.5M557.50,110.23H559.5M557.50,117.41H559.5M557.50,124.58H559.5M557.50,131.75H559.5M557.50,138.92H559.5M557.50,146.08H559.5M557.50,153.25H559.5M557.50,160.43H559.5M557.50,167.59H559.5M557.50,174.76H559.5M557.50,181.94H559.5M557.50,189.10H559.5M557.50,196.28H559.5M557.50,203.44H559.5M557.50,210.62H559.5M557.50,217.78H559.5M557.50,224.96H559.5M557.50,232.12H559.5M557.50,239.29H559.5M557.50,246.47H559.5M557.50,253.63H559.5M557.50,260.81H559.5M557.50,267.98H559.5M557.50,275.14H559.5M557.50,282.31H559.5M557.50,289.49H559.5M557.50,296.65H559.5M557.50,303.83H559.5M576.95,308.2V310.0M606.65,308.2V310.0M636.35,308.2V310.0" stroke="#333" stroke-width="0.8" fill="none"/>
<text transform="translate(580.70,311.6) rotate(-90)" font-size="11.05" text-anchor="end" fill="#111">CLIMB only</text>
<text transform="translate(610.40,311.6) rotate(-90)" font-size="11.05" text-anchor="end" fill="#111">intersect</text>
<text transform="translate(640.10,311.6) rotate(-90)" font-size="11.05" text-anchor="end" fill="#111">DESeq2 only</text>
<defs><linearGradient id="fdr" x1="0" y1="0" x2="0" y2="1"><stop offset="0" stop-color="#FFF5F4"/><stop offset="0.125" stop-color="#FDDDE6"/><stop offset="0.25" stop-color="#F9B2CD"/><stop offset="0.375" stop-color="#F690BA"/><stop offset="0.5" stop-color="#F068A4"/><stop offset="0.625" stop-color="#C84994"/><stop offset="0.75" stop-color="#9C2F8A"/><stop offset="0.875" stop-color="#6E1479"/><stop offset="1" stop-color="#49006A"/></linearGradient></defs>
<text x="658.6" y="174.5" font-size="10.5" fill="#111">FDR</text>
<rect x="658.2" y="181.1" width="9" height="41.8" fill="url(#fdr)"/>
<text x="672.3" y="184.35" font-size="7.2" fill="#2a2a2a">1.00</text>
<text x="672.3" y="194.60" font-size="7.2" fill="#2a2a2a">0.75</text>
<text x="672.3" y="204.85" font-size="7.2" fill="#2a2a2a">0.50</text>
<text x="672.3" y="215.10" font-size="7.2" fill="#2a2a2a">0.25</text>
<path d="M658.2,181.80h1.8M665.4,181.80h1.8M658.2,192.05h1.8M665.4,192.05h1.8M658.2,202.30h1.8M665.4,202.30h1.8M658.2,212.55h1.8M665.4,212.55h1.8" stroke="#fff" stroke-width="0.6"/>
</svg></body></html>
